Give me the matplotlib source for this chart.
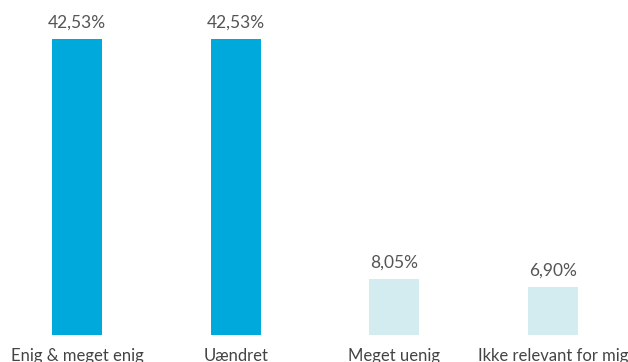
import matplotlib.pyplot as plt

categories = ['Enig & meget enig', 'Uændret', 'Meget uenig', 'Ikke relevant for mig']
values = [42.53, 42.53, 8.05, 6.90]
labels = ['42,53%', '42,53%', '8,05%', '6,90%']
colors = ['#00A9DC', '#00A9DC', '#D3ECEF', '#D3ECEF']

plt.rcParams['font.family'] = ['Lato', 'DejaVu Sans']

fig = plt.figure(figsize=(6.28, 3.62), dpi=100)
ax = fig.add_axes([0, 27 / 362, 1, 335 / 362])

x = range(len(values))
ax.bar(x, values, width=0.315, color=colors)
for i, v in enumerate(values):
    ax.text(i, v + 1.2, labels[i], ha='center', va='bottom', fontsize=12.5,
            color='#555555')
    ax.text(i, -1.8, categories[i], ha='center', va='top', fontsize=12,
            color='#444444', clip_on=False)

ax.set_xlim(-0.485, 3.473)
ax.set_ylim(0, 48.1)
ax.axis('off')

fig.savefig('out.png', dpi=100)
